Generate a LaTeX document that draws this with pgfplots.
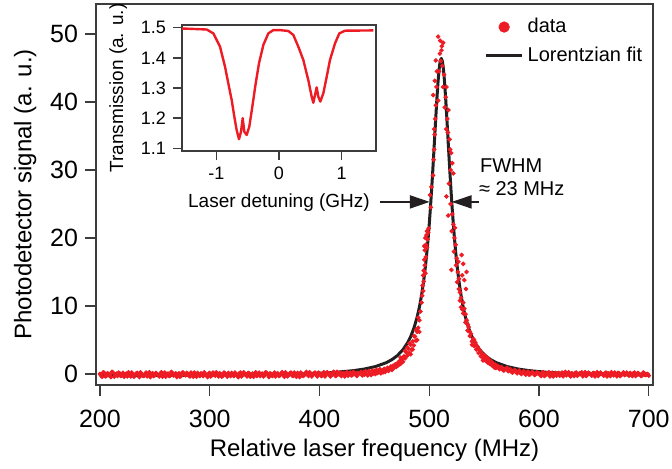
\documentclass[border=0pt]{standalone}
\usepackage{pgfplots}
\pgfplotsset{compat=1.18}
\usepackage{fontspec}
\setmainfont{Liberation Sans}
\usetikzlibrary{arrows.meta}

\definecolor{dotred}{RGB}{237,28,36}
\definecolor{fitblack}{RGB}{35,31,32}
\definecolor{frame}{RGB}{60,60,60}

\begin{document}
\begin{tikzpicture}
\path[use as bounding box] (-48pt,-42pt) rectangle (288pt,192.5pt);

% main plot
\begin{axis}[
  scale only axis, width=278.5pt, height=190.5pt,
  xmin=196.4, xmax=703.9, ymin=-1.62, ymax=54.4,
  xtick={200,300,400,500,600,700}, ytick={0,10,20,30,40,50},
  tick align=outside, xtick pos=bottom, ytick pos=left,
  major tick length=5.5pt,
  axis line style={line width=0.7pt, frame},
  every tick/.style={line width=0.7pt, frame},
  tick label style={font=\fontsize{12.5}{14}\selectfont},
  xticklabel style={yshift=-3.5pt},
  label style={font=\fontsize{12}{14}\selectfont},
  xlabel style={yshift=1pt},
  /pgf/number format/assume math mode=true,
  xlabel={Relative laser frequency (MHz)},
  ylabel={Photodetector signal (a. u.)},
  legend style={draw=none, fill=none, at={(0.697,0.974)}, anchor=north west,
    font=\fontsize{10}{12}\selectfont, row sep=1.5pt, inner sep=0pt},
  legend cell align=left,
]
\addplot[only marks, mark=*, mark size=0.95pt, dotred, mark options={draw=none, fill=dotred},
  legend image code/.code={\fill[dotred] (9pt,0) circle (2.6pt);}]
coordinates {
(200,0.0) (202,-0.4) (204,0.15) (206,-0.25) (208,-0.05) (210,-0.45) (212,0.2) (214,-0.1) (216,-0.3) (218,0.1)
(220,-0.15) (222,-0.4) (224,0.05) (226,0.25) (228,-0.35) (230,-0.05) (232,-0.2) (234,0.15) (236,-0.45) (238,0.0)
(240,-0.3) (242,0.2) (244,-0.1) (246,-0.45) (248,0.1) (250,-0.2) (252,0.0) (254,-0.35) (256,0.25) (258,-0.15)
(260,-0.4) (262,0.05) (264,-0.25) (266,0.15) (268,-0.05) (270,-0.45) (272,0.1) (274,-0.3) (276,0.2) (278,-0.2)
(280,0.05) (282,-0.35) (284,-0.1) (286,0.2) (288,-0.4) (290,-0.15) (292,0.1) (294,-0.3) (296,0.0) (298,-0.45)
(300,0.15) (302,-0.2) (304,-0.05) (306,0.25) (308,-0.35) (310,0.0) (312,-0.25) (314,0.1) (316,-0.4) (318,-0.1)
(320,0.15) (322,-0.3) (324,-0.05) (326,-0.45) (328,0.2) (330,-0.15) (332,0.0) (334,-0.35) (336,0.1) (338,-0.25)
(340,-0.4) (342,0.25) (344,-0.1) (346,-0.3) (348,0.05) (350,-0.2) (352,0.15) (354,-0.45) (356,0.0) (358,-0.15)
(360,-0.35) (362,0.1) (364,-0.2) (366,0.25) (368,-0.4) (370,0.0) (372,-0.1) (374,0.2) (376,-0.3) (378,-0.05)
(380,0.15) (382,-0.45) (384,0.05) (386,-0.2) (388,0.3) (390,-0.3) (392,0.0) (394,-0.15) (396,0.2) (398,-0.35)
(400,0.1) (402,-0.3) (404,0.25) (406,-0.1) (408,0.0) (410,-0.35) (412,0.2) (414,-0.2) (416,0.3) (418,-0.05)
(420,-0.3) (422,0.15) (424,0.0) (426,-0.25) (428,0.2) (430,-0.15) (432,0.1) (434,-0.3) (436,0.05)
(201,-0.2) (203,0.25) (205,-0.35) (207,0.1) (209,-0.1) (211,0.3) (213,-0.4) (215,0.05) (217,0.2) (219,-0.3)
(221,0.15) (223,-0.05) (225,-0.35) (227,0.0) (229,0.2) (231,-0.4) (233,0.1) (235,-0.15) (237,0.25) (239,-0.25)
(241,0.0) (243,-0.35) (245,0.25) (247,-0.05) (249,-0.3) (251,0.15) (253,-0.2) (255,0.05) (257,-0.4) (259,0.2)
(261,0.0) (263,-0.3) (265,0.3) (267,-0.2) (269,0.1) (271,-0.1) (273,-0.4) (275,0.2) (277,-0.05) (279,0.15)
(281,-0.25) (283,0.2) (285,-0.4) (287,0.0) (289,0.15) (291,-0.3) (293,-0.1) (295,0.25) (297,-0.2) (299,0.05)
(301,-0.35) (303,0.2) (305,-0.25) (307,0.0) (309,0.1) (311,-0.4) (313,0.2) (315,-0.1) (317,0.15) (319,-0.3)
(321,-0.1) (323,0.2) (325,-0.2) (327,0.1) (329,-0.35) (331,0.25) (333,-0.05) (335,0.15) (337,-0.4) (339,0.05)
(341,0.1) (343,-0.3) (345,0.2) (347,0.0) (349,-0.35) (351,0.25) (353,-0.15) (355,0.1) (357,-0.3) (359,0.2)
(361,0.0) (363,-0.3) (365,0.05) (367,-0.15) (369,0.25) (371,-0.35) (373,0.1) (375,-0.2) (377,0.2) (379,-0.4)
(381,0.0) (383,0.2) (385,-0.3) (387,0.05) (389,-0.1) (391,0.25) (393,-0.35) (395,0.1) (397,-0.05) (399,0.2)
(401,-0.2) (403,0.05) (405,-0.35) (407,0.25) (409,0.1) (411,-0.15) (413,0.3) (415,-0.3) (417,0.0) (419,0.2)
(421,-0.1) (423,-0.35) (425,0.25) (427,0.0) (429,-0.2) (431,0.3) (433,-0.1) (435,0.15)
(438,0.3) (439,-0.2) (440,0.2) (441,-0.1) (442,0.4) (443,0.0) (444,-0.2) (445,0.45) (446,0.05) (447,-0.15)
(448,0.5) (449,0.1) (450,0.4) (451,0.0) (452,0.6) (453,0.15) (454,0.35) (455,0.7) (456,0.1) (457,0.5)
(458,0.25) (459,0.75) (460,0.3) (461,0.6) (462,0.9) (463,0.45) (464,0.8) (465,1.1) (466,0.6) (467,1.2)
(468,0.9) (469,1.4) (470,1.05) (471,1.6) (472,1.3) (473,1.9) (474,1.5) (475,2.2) (476,1.8) (477,2.6)
(478,2.3) (479,3.2) (480,2.7) (481,3.7) (482,3.1) (483,4.3) (484,3.6) (485,4.8) (486,4.2) (487,5.5)
(488,4.9) (489,6.2) (490,6.8) (491,7.9) (492,9.2)
(474,2.4) (478,3.4) (480,3.9) (482,4.5) (483,2.9) (485,3.6) (486,5.6) (488,6.5) (489,5.0) (490,8.3) (491,6.2)
(493.5,11.5) (494,13.0) (494.5,12.2) (494.5,14.5) (495,15.2) (495,13.6) (495.5,16.8) (496,16.0) (496,18.2)
(496.5,14.8) (497,19.0) (497,17.2) (497.5,20.4) (498,21.0) (498,18.6) (498.5,19.8) (499,20.8) (493,10.5)
(496.5,20.0) (495.5,18.8) (499.5,21.4)
(500.8,26.3) (501.5,24.5) (502,27.5)
(503.5,29.2) (504,31.5) (504.5,33.0) (505,35.2) (505.5,37.5) (506,39.5) (503.6,41.0) (505.1,43.1)
(506.6,42.2) (506,46.1) (504.5,36.0) (507,44.5)
(508.1,49.6) (512.7,48.7) (511.2,47.6) (509.7,47.1) (512,45.3) (512.7,42.2) (508.1,40.2) (514.2,39.2)
(515.7,42.2) (515,40.7) (510.5,46.0) (509,44.5) (513.5,44.0) (511.5,48.2) (510,49.0)
(515.5,36.0) (517,35.5) (518.5,34.5) (519,33.0) (520,32.5) (521,31.0) (519.5,30.0) (522,29.5) (518,28.0)
(516.5,37.5) (517.5,38.8) (515.7,26.1) (517.3,23.3)
(519.5,25.0) (521,23.5) (522,22.0) (520.5,21.0) (523,20.0) (524,19.0) (522.5,18.0) (525,17.0) (524.5,16.0)
(526,15.0) (527,14.0) (525.5,13.5) (534,15.0) (533.5,12.5) (532,13.8) (520.2,15.3) (523.5,21.5) (526.5,16.5)
(528,12.0) (529.5,17.5) (531,16.2) (530,14.5)
(527,12.5) (528,10.8) (529,11.2) (530,9.5) (531,8.9) (532,9.6) (533,7.6) (534,7.9) (535,6.4) (536,6.9)
(537,5.6) (538,5.9) (539,4.8) (540,5.2) (541,4.1) (542,4.6) (543,3.6) (544,4.0) (545,3.1) (546,3.5)
(547,2.6) (548,3.0) (549,2.4) (550,2.8) (551,2.0) (552,2.3) (553,1.7) (554,2.1) (555,1.5) (556,1.9)
(557,1.3) (558,1.6) (559,1.0) (560,1.4) (561,0.9) (562,1.2) (564,0.7) (566,1.0) (568,0.5) (570,0.8)
(572,0.4) (574,0.7) (576,0.2) (578,0.6) (580,0.1) (582,0.5) (584,0.0) (586,0.4) (588,-0.1) (590,0.35)
(592,-0.05) (594,0.3) (596,-0.15) (598,0.25)
(529,9.8) (531,10.5) (533,8.8) (535,7.3) (537,6.2) (539,4.3) (541,5.0) (543,4.2) (545,3.7) (547,3.2)
(549,2.0) (551,2.6) (553,2.4) (555,1.9) (557,1.7) (560,0.9) (563,1.1) (567,0.6) (571,0.9) (575,0.3) (579,0.4)
(565,0.9) (569,0.7) (573,0.55) (577,0.45) (581,0.3) (583,0.15) (585,0.25) (587,0.05) (589,0.2) (591,-0.1)
(593,0.15) (595,0.1) (597,-0.05) (599,0.1)
(600,0.1) (602,-0.3) (604,0.25) (606,-0.15) (608,0.0) (610,-0.35) (612,0.2) (614,-0.1) (616,-0.25) (618,0.15)
(620,-0.05) (622,-0.35) (624,0.3) (626,0.05) (628,-0.2) (630,0.1) (632,-0.3) (634,0.2) (636,-0.1) (638,0.0)
(640,-0.35) (642,0.25) (644,-0.15) (646,0.05) (648,-0.25) (650,0.15) (652,-0.05) (654,-0.3) (656,0.2) (658,-0.1)
(660,0.1) (662,-0.35) (664,0.0) (666,0.25) (668,-0.2) (670,-0.05) (672,0.15) (674,-0.3) (676,0.05) (678,-0.15)
(680,0.2) (682,-0.25) (684,0.0) (686,0.1) (688,-0.3) (690,0.15) (692,-0.1) (694,-0.2) (696,0.1) (698,-0.05)
(700,-0.25)
(601,-0.15) (603,0.2) (605,-0.3) (607,0.1) (609,0.25) (611,-0.1) (613,-0.35) (615,0.15) (617,0.0) (619,-0.25)
(621,0.2) (623,0.05) (625,-0.2) (627,0.25) (629,-0.35) (631,0.0) (633,0.15) (635,-0.25) (637,0.1) (639,0.25)
(641,-0.1) (643,-0.3) (645,0.2) (647,0.0) (649,0.1) (651,-0.35) (653,0.25) (655,-0.05) (657,0.05) (659,-0.25)
(661,0.2) (663,0.1) (665,-0.3) (667,0.0) (669,0.2) (671,-0.35) (673,0.1) (675,-0.15) (677,0.25) (679,-0.05)
(681,0.0) (683,0.15) (685,-0.3) (687,0.2) (689,-0.1) (691,0.05) (693,-0.3) (695,0.2) (697,-0.15) (699,0.0)
};
\addlegendentry{data}
\addplot[fitblack, line width=1.5pt, line join=round,
  legend image code/.code={\draw[fitblack, line width=1.5pt] (0pt,0) -- (18pt,0);}]
coordinates {
(200,-0.25) (250,-0.22) (300,-0.18) (350,-0.10) (380,0.00) (400,0.11) (416,0.26) (431,0.49) (441,0.73)
(451,1.09) (461,1.67) (466,2.11) (471,2.71) (476,3.56) (480,4.51) (483,5.46) (486,6.70) (489,8.36)
(491,9.79) (493,11.56) (495,13.76) (496,15.06) (497,16.51) (498,18.14) (499,19.95) (500,21.96)
(501,24.19) (502,26.62) (503,29.25) (504,32.03) (505,34.90) (506,37.77) (507,40.48) (508,42.88)
(509,44.77) (510,45.98) (511,46.40) (512,45.98) (513,44.77) (514,42.88) (515,40.48) (516,37.77)
(517,34.90) (518,32.03) (519,29.25) (520,26.62) (521,24.19) (522,21.96) (523,19.95) (524,18.14)
(525,16.51) (526,15.06) (527,13.76) (529,11.56) (531,9.79) (533,8.36) (536,6.70) (539,5.46)
(542,4.51) (546,3.56) (551,2.71) (556,2.11) (561,1.67) (571,1.09) (581,0.73) (591,0.49) (606,0.26)
(622,0.11) (642,0.00) (672,-0.10) (700,-0.16)
};
\addlegendentry{Lorentzian fit}

\draw[fitblack, line width=1pt, -{Triangle[length=10pt,width=6.5pt]}] (axis cs:455,25.3) -- (axis cs:500.5,25.3);
\draw[fitblack, line width=1pt, -{Triangle[length=10pt,width=6.5pt]}] (axis cs:545,25.3) -- (axis cs:520.5,25.3);
\node[anchor=west, inner sep=0pt, font=\fontsize{10}{12}\selectfont] at (axis cs:546,30.7) {FWHM};
\node[anchor=west, inner sep=0pt, font=\fontsize{10}{12}\selectfont] at (axis cs:545,27.3) {≈ 23 MHz};
\end{axis}

% inset
\begin{axis}[
  at={(43pt,117pt)}, anchor=south west,
  scale only axis, width=97pt, height=63pt,
  xmin=-1.552, xmax=1.552, ymin=1.091, ymax=1.509,
  xtick={-1,0,1}, ytick={1.1,1.2,1.3,1.4,1.5},
  yticklabel style={/pgf/number format/.cd, fixed, fixed zerofill, precision=1},
  tick align=outside, xtick pos=bottom, ytick pos=left,
  major tick length=4.5pt,
  axis line style={line width=0.7pt, frame},
  every tick/.style={line width=0.7pt, frame},
  tick label style={font=\fontsize{9}{10}\selectfont},
  label style={font=\fontsize{9.5}{11}\selectfont},
  /pgf/number format/assume math mode=true,
  xlabel={Laser detuning (GHz)},
  ylabel={Transmission (a. u.)},
]
\addplot[dotred, line width=1.2pt, line join=round] coordinates {
(-1.552,1.497) (-1.504,1.497) (-1.157,1.494) (-1.05,1.481) (-0.944,1.437) (-0.864,1.371) (-0.811,1.315)
(-0.757,1.26) (-0.715,1.205) (-0.677,1.16) (-0.64,1.13) (-0.608,1.155) (-0.581,1.2) (-0.555,1.155)
(-0.517,1.144) (-0.475,1.172) (-0.427,1.238) (-0.373,1.315) (-0.32,1.382) (-0.25,1.443) (-0.171,1.481)
(-0.091,1.492) (0.016,1.492) (0.149,1.489) (0.229,1.476) (0.309,1.437) (0.389,1.393) (0.469,1.326)
(0.523,1.271) (0.549,1.251) (0.576,1.277) (0.603,1.302) (0.629,1.271) (0.661,1.255) (0.709,1.282)
(0.763,1.337) (0.816,1.393) (0.896,1.448) (0.965,1.481) (1.056,1.49) (1.509,1.491)
};
\end{axis}
\end{tikzpicture}
\end{document}
